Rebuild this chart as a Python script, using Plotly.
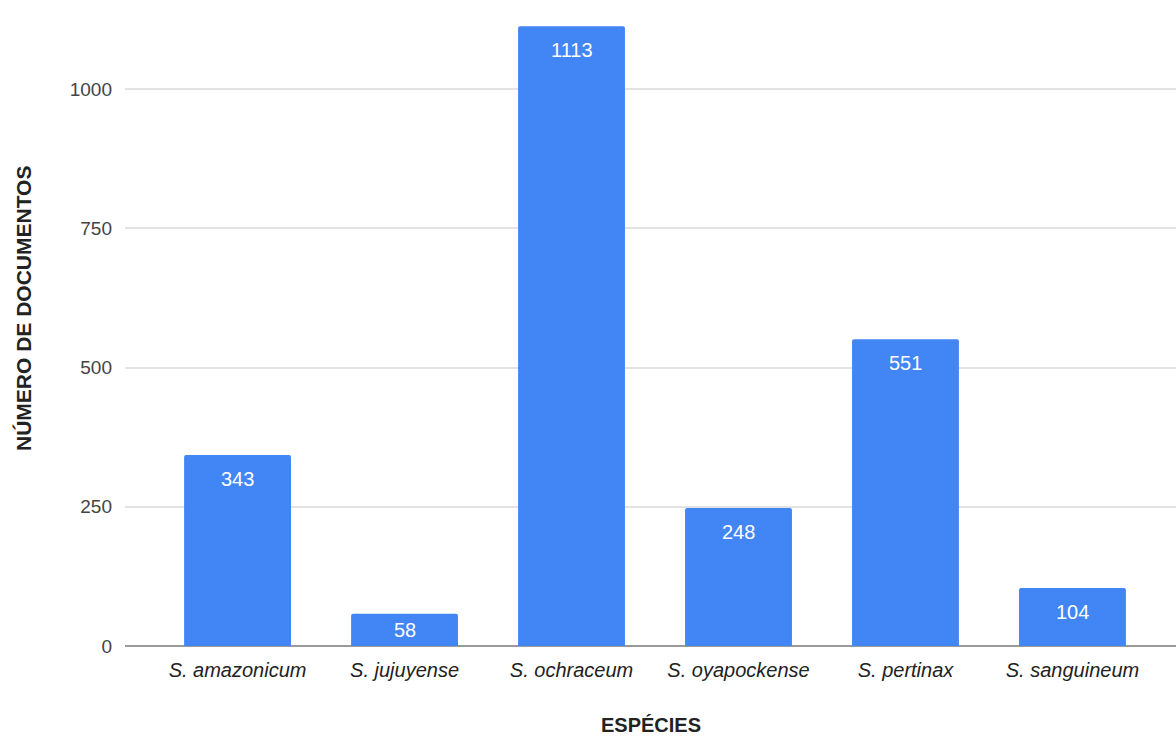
import plotly.graph_objects as go

species = ["S. amazonicum", "S. jujuyense", "S. ochraceum",
           "S. oyapockense", "S. pertinax", "S. sanguineum"]
documents = [343, 58, 1113, 248, 551, 104]
y_ticks = [0, 250, 500, 750, 1000]

FONT = "Arial, Liberation Sans, Helvetica, sans-serif"
positions = list(range(len(species)))

WIDTH, HEIGHT = 1176, 737
MARGIN = dict(l=125, r=0, t=10, b=91)
Y_RANGE = [0, 1142]
px_per_unit = (HEIGHT - MARGIN["t"] - MARGIN["b"]) / (Y_RANGE[1] - Y_RANGE[0])

fig = go.Figure(
    go.Bar(
        x=positions,
        y=documents,
        marker=dict(color="#4285F4", line=dict(width=0), cornerradius=2),
        width=0.64,
        hoverinfo="x+y",
    )
)

# value labels just below the top of each bar (centred in very short bars)
for xi, v in zip(positions, documents):
    shift = min(24, v * px_per_unit / 2)
    fig.add_annotation(
        x=xi, y=v, xref="x", yref="y",
        text=str(v), showarrow=False,
        yanchor="middle", yshift=-shift,
        font=dict(color="white", size=20, family=FONT),
    )

# axis titles
fig.add_annotation(
    x=-0.096, y=0.530, xref="paper", yref="paper",
    text="<b>NÚMERO DE DOCUMENTOS</b>", textangle=-90, showarrow=False,
    xanchor="center", yanchor="middle",
    font=dict(size=21, color="#222222", family=FONT),
)
fig.add_annotation(
    x=0.5, y=-0.1242, xref="paper", yref="paper",
    text="<b>ESPÉCIES</b>", showarrow=False,
    xanchor="center", yanchor="middle",
    font=dict(size=20, color="#222222", family=FONT),
)

fig.update_layout(
    width=WIDTH,
    height=HEIGHT,
    margin=MARGIN,
    plot_bgcolor="white",
    paper_bgcolor="white",
    showlegend=False,
    font=dict(family=FONT, color="#444444"),
)

fig.update_xaxes(
    range=[-0.674, 5.62],
    tickmode="array",
    tickvals=positions,
    ticktext=[f"<i>{s}</i>" for s in species],
    tickfont=dict(size=20, color="#222222", family=FONT),
    showgrid=False,
    zeroline=False,
    showline=False,
    ticks="",
    ticklabelstandoff=10,
)

fig.update_yaxes(
    range=Y_RANGE,
    tickmode="array",
    tickvals=y_ticks,
    ticktext=[str(v) for v in y_ticks],
    tickfont=dict(size=19, color="#444444", family=FONT),
    showgrid=True,
    gridcolor="#e3e3e3",
    gridwidth=1.5,
    zeroline=True,
    zerolinecolor="#9a9a9a",
    zerolinewidth=2,
    showline=False,
    ticks="",
    ticklabelstandoff=12,
)

fig.write_html("out.html")
